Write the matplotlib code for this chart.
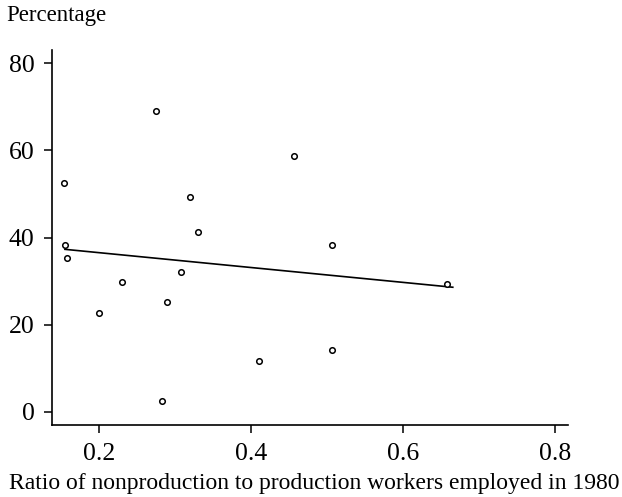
import numpy as np
import matplotlib
matplotlib.use("Agg")
import matplotlib.pyplot as plt

plt.rcParams['font.family'] = ['Liberation Serif', 'DejaVu Serif']

# ratio of nonproduction to production workers (1980) vs. percentage
ratio = [0.154, 0.155, 0.158, 0.200, 0.230, 0.275, 0.283, 0.289, 0.307,
         0.319, 0.330, 0.410, 0.456, 0.506, 0.506, 0.657]
pct = [52.6, 38.4, 35.4, 22.7, 29.9, 69.1, 2.4, 25.2, 32.1,
       49.3, 41.3, 11.7, 58.7, 38.2, 14.1, 29.4]

# fitted line end points
fit_x = [0.155, 0.665]
fit_y = [37.3, 28.6]

xticks = [0.2, 0.4, 0.6, 0.8]
yticks = [0, 20, 40, 60, 80]

fig = plt.figure(figsize=(6.22, 4.97), dpi=100)
ax = fig.add_axes([0.0836, 0.145, 0.829, 0.754])

ax.plot(fit_x, fit_y, color='black', lw=1.2)
ax.plot(ratio, pct, 'o', ms=4, mfc='white', mec='black', mew=1.1, ls='none')

ax.set_xlim(0.138, 0.816)
ax.set_ylim(-3, 83)
ax.set_xticks(xticks)
ax.set_xticklabels([f'{t:.1f}' for t in xticks])
ax.set_yticks(yticks)

for s in ['top', 'right']:
    ax.spines[s].set_visible(False)
for s in ['left', 'bottom']:
    ax.spines[s].set_linewidth(1.2)
ax.tick_params(direction='out', length=6, width=1.1, labelsize=18.5)
ax.tick_params(axis='x', pad=7)
ax.tick_params(axis='y', pad=6.5)

ax.set_xlabel('Ratio of nonproduction to production workers employed in 1980',
              fontsize=17)
ax.xaxis.set_label_coords(0.508, -0.128)
fig.text(0.01, 0.99, 'Percentage', fontsize=16.5, ha='left', va='top')

fig.savefig('out.png', dpi=100)
